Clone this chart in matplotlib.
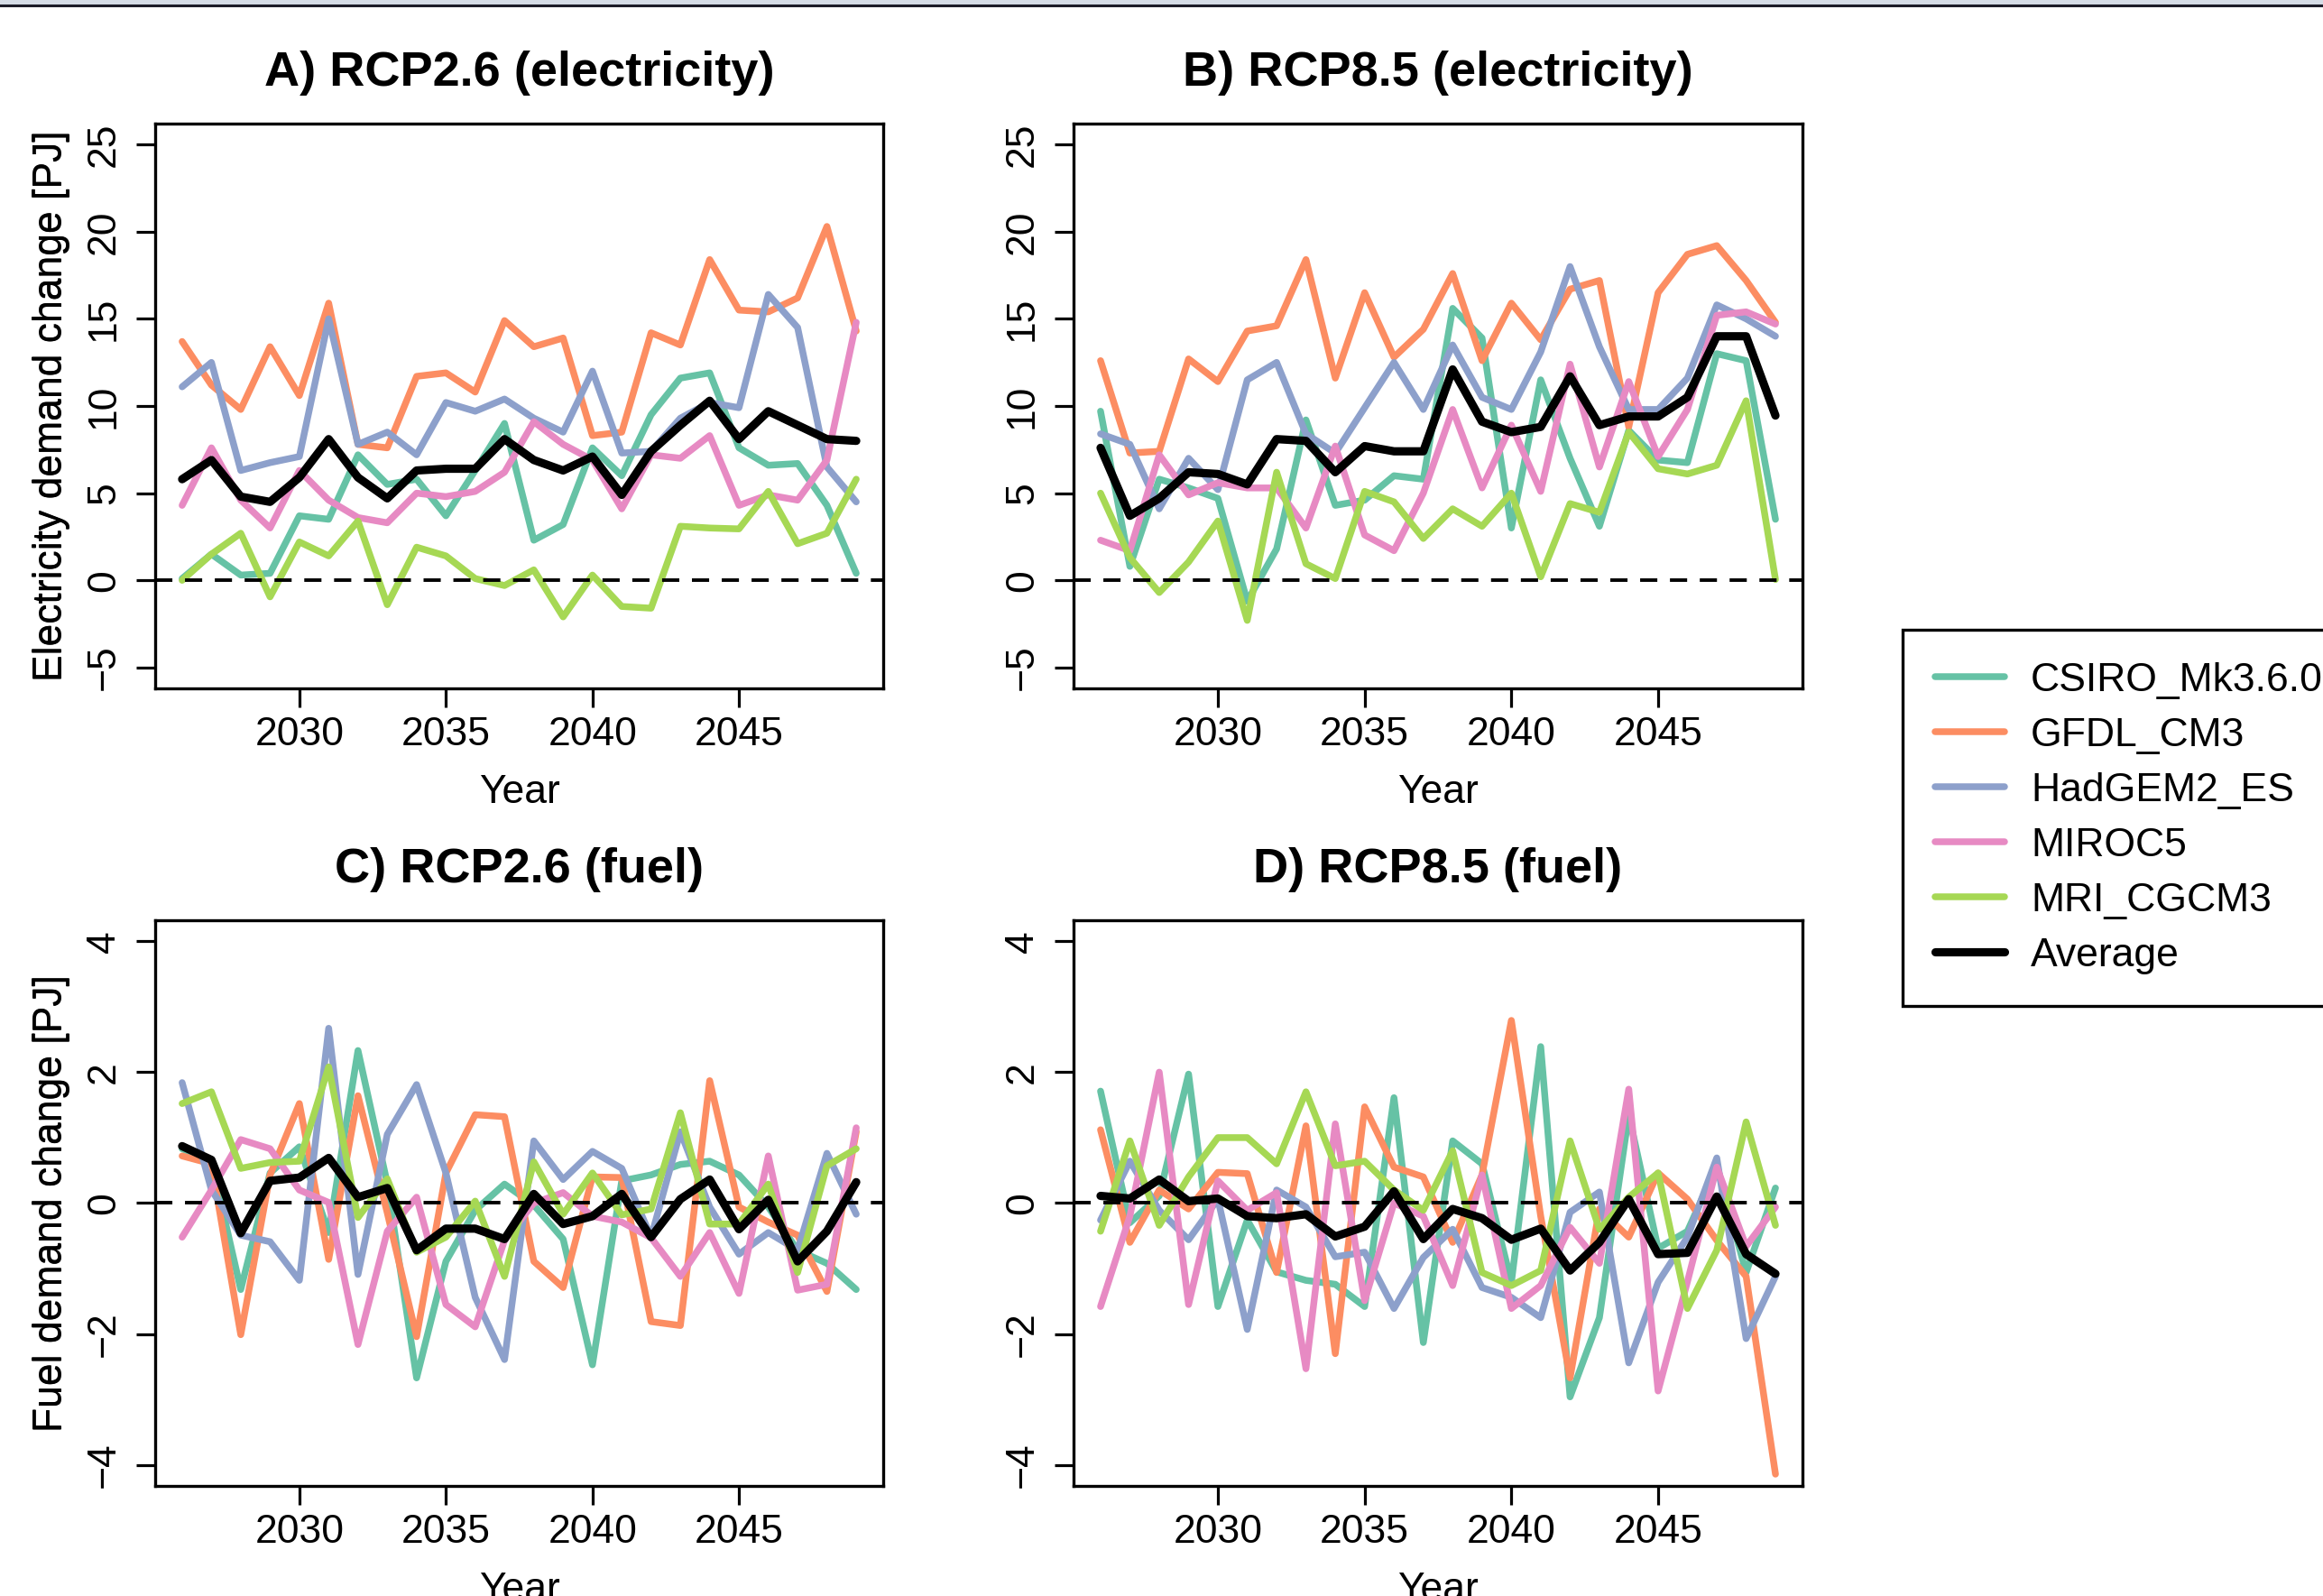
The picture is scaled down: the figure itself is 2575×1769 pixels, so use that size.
import matplotlib
matplotlib.use("Agg")
import matplotlib.pyplot as plt
from matplotlib.patches import Rectangle
from matplotlib.lines import Line2D

plt.rcParams['font.family'] = ['Liberation Sans', 'DejaVu Sans']

years = list(range(2026, 2050))
models = ["CSIRO_Mk3.6.0", "GFDL_CM3", "HadGEM2_ES", "MIROC5", "MRI_CGCM3", "Average"]
colors = ["#66C2A5", "#FC8D62", "#8DA0CB", "#E78AC3", "#A6D854", "#000000"]

# Panel A: RCP2.6 electricity
a_csiro = [0.1, 1.5, 0.3, 0.4, 3.7, 3.5, 7.2, 5.5, 5.8, 3.7, 6.3, 9.0, 2.3, 3.2, 7.6, 6.0, 9.5, 11.6, 11.9, 7.6, 6.6, 6.7, 4.3, 0.4]
a_gfdl = [13.7, 11.2, 9.8, 13.4, 10.6, 15.9, 7.8, 7.6, 11.7, 11.9, 10.8, 14.9, 13.4, 13.9, 8.3, 8.5, 14.2, 13.5, 18.4, 15.5, 15.4, 16.2, 20.3, 14.3]
a_hadgem = [11.1, 12.5, 6.3, 6.75, 7.1, 15.0, 7.8, 8.5, 7.2, 10.2, 9.7, 10.4, 9.3, 8.5, 12.0, 7.3, 7.4, 9.3, 10.2, 9.9, 16.4, 14.5, 6.5, 4.5]
a_miroc = [4.3, 7.6, 4.6, 3.0, 6.3, 4.6, 3.6, 3.3, 5.0, 4.8, 5.1, 6.2, 9.1, 7.8, 6.9, 4.1, 7.2, 7.0, 8.3, 4.3, 4.9, 4.6, 6.9, 14.8]
a_mri = [0.0, 1.5, 2.7, -0.95, 2.2, 1.4, 3.4, -1.4, 1.9, 1.4, 0.1, -0.3, 0.6, -2.1, 0.3, -1.5, -1.6, 3.1, 3.0, 2.95, 5.1, 2.1, 2.7, 5.8]
a_avg = [5.8, 6.9, 4.8, 4.5, 5.9, 8.1, 5.9, 4.7, 6.3, 6.4, 6.4, 8.1, 6.9, 6.3, 7.1, 4.9, 7.4, 8.9, 10.3, 8.1, 9.7, 8.9, 8.1, 8.0]

# Panel B: RCP8.5 electricity
b_csiro = [9.7, 0.8, 5.8, 5.3, 4.7, -1.2, 1.8, 9.2, 4.3, 4.6, 6.0, 5.8, 15.6, 13.9, 3.0, 11.5, 7.0, 3.1, 8.6, 6.9, 6.75, 13.0, 12.6, 3.5]
b_gfdl = [12.6, 7.3, 7.4, 12.7, 11.4, 14.3, 14.6, 18.4, 11.6, 16.5, 12.8, 14.4, 17.6, 12.6, 15.9, 13.8, 16.7, 17.2, 8.8, 16.5, 18.7, 19.2, 17.2, 14.8]
b_hadgem = [8.4, 7.8, 4.1, 7.0, 5.2, 11.5, 12.5, 8.4, 7.3, 9.9, 12.5, 9.8, 13.5, 10.5, 9.8, 13.1, 18.0, 13.4, 9.8, 9.8, 11.6, 15.8, 15.0, 14.0]
b_miroc = [2.3, 1.7, 7.2, 4.9, 5.6, 5.3, 5.3, 3.0, 7.7, 2.6, 1.7, 5.0, 9.8, 5.3, 8.9, 5.1, 12.4, 6.5, 11.4, 7.1, 9.8, 15.2, 15.4, 14.7]
b_mri = [5.0, 1.3, -0.7, 1.05, 3.4, -2.3, 6.2, 0.95, 0.1, 5.1, 4.5, 2.4, 4.1, 3.1, 5.0, 0.2, 4.4, 3.9, 8.5, 6.4, 6.1, 6.6, 10.3, 0.05]
b_avg = [7.6, 3.7, 4.7, 6.2, 6.1, 5.5, 8.1, 8.0, 6.2, 7.7, 7.4, 7.4, 12.1, 9.1, 8.5, 8.8, 11.7, 8.9, 9.4, 9.4, 10.5, 14.0, 14.0, 9.45]

# Panel C: RCP2.6 fuel
c_csiro = [0.83, 0.64, -1.32, 0.46, 0.86, -0.45, 2.33, 0.3, -2.67, -0.89, -0.11, 0.29, -0.03, -0.55, -2.47, 0.34, 0.43, 0.59, 0.64, 0.43, -0.06, -0.72, -0.92, -1.32]
c_gfdl = [0.72, 0.6, -2.01, 0.43, 1.52, -0.86, 1.64, -0.15, -2.04, 0.46, 1.35, 1.32, -0.89, -1.29, 0.4, 0.39, -1.81, -1.87, 1.87, -0.06, -0.29, -0.49, -1.35, 1.09]
c_hadgem = [1.84, 0.2, -0.49, -0.59, -1.18, 2.67, -1.09, 1.05, 1.81, 0.46, -1.44, -2.39, 0.95, 0.36, 0.79, 0.53, -0.52, 1.09, -0.06, -0.78, -0.45, -0.72, 0.76, -0.17]
c_miroc = [-0.52, 0.2, 0.97, 0.83, 0.2, 0.01, -2.16, -0.43, 0.09, -1.55, -1.89, -0.57, 0.0, 0.16, -0.2, -0.29, -0.53, -1.12, -0.45, -1.38, 0.72, -1.33, -1.24, 1.15]
c_mri = [1.52, 1.7, 0.53, 0.62, 0.64, 2.08, -0.22, 0.37, -0.75, -0.52, 0.03, -1.12, 0.63, -0.17, 0.46, -0.18, -0.09, 1.38, -0.32, -0.32, 0.29, -1.06, 0.57, 0.83]
c_avg = [0.87, 0.66, -0.46, 0.34, 0.39, 0.69, 0.09, 0.23, -0.72, -0.39, -0.39, -0.55, 0.14, -0.32, -0.2, 0.14, -0.52, 0.06, 0.36, -0.4, 0.05, -0.89, -0.43, 0.32]

# Panel D: RCP8.5 fuel
d_csiro = [1.71, -0.3, 0.11, 1.97, -1.58, -0.26, -1.05, -1.18, -1.24, -1.58, 1.61, -2.13, 0.95, 0.6, -1.21, 2.39, -2.96, -1.75, 1.35, -0.69, -0.43, 0.57, -1.06, 0.23]
d_gfdl = [1.12, -0.6, 0.2, -0.09, 0.47, 0.45, -1.06, 1.18, -2.3, 1.47, 0.55, 0.4, -0.6, 0.43, 2.79, -0.2, -2.67, -0.09, -0.52, 0.46, 0.06, -0.57, -1.12, -4.14]
d_hadgem = [-0.26, 0.64, -0.11, -0.56, 0.06, -1.93, 0.2, -0.06, -0.82, -0.75, -1.61, -0.83, -0.4, -1.29, -1.44, -1.75, -0.14, 0.17, -2.44, -1.21, -0.52, 0.69, -2.07, -1.12]
d_miroc = [-1.58, -0.2, 2.0, -1.55, 0.34, -0.11, 0.16, -2.53, 1.21, -1.49, 0.0, -0.2, -1.26, 0.43, -1.61, -1.26, -0.37, -0.92, 1.74, -2.87, -1.2, 0.55, -0.66, -0.06]
d_mri = [-0.43, 0.95, -0.34, 0.4, 1.0, 1.0, 0.6, 1.7, 0.57, 0.64, 0.2, -0.11, 0.8, -1.06, -1.26, -1.03, 0.95, -0.4, 0.09, 0.46, -1.61, -0.72, 1.24, -0.34]
d_avg = [0.11, 0.07, 0.36, 0.03, 0.07, -0.2, -0.23, -0.17, -0.51, -0.36, 0.18, -0.55, -0.09, -0.23, -0.56, -0.39, -1.03, -0.6, 0.06, -0.78, -0.76, 0.1, -0.78, -1.08]

titles = ["A) RCP2.6 (electricity)", "B) RCP8.5 (electricity)", "C) RCP2.6 (fuel)", "D) RCP8.5 (fuel)"]
ylabels = ["Electricity demand change [PJ]", "Electricity demand change [PJ]",
           "Fuel demand change [PJ]", "Fuel demand change [PJ]"]
xticks = [2030, 2035, 2040, 2045]
elec_yticks = [-5, 0, 5, 10, 15, 20, 25]
fuel_yticks = [-4, -2, 0, 2, 4]

panels = [
    [a_csiro, a_gfdl, a_hadgem, a_miroc, a_mri, a_avg],
    [b_csiro, b_gfdl, b_hadgem, b_miroc, b_mri, b_avg],
    [c_csiro, c_gfdl, c_hadgem, c_miroc, c_mri, c_avg],
    [d_csiro, d_gfdl, d_hadgem, d_miroc, d_mri, d_avg],
]

W, H = 2575, 1769
fig = plt.figure(figsize=(W / 100, H / 100), dpi=100)

def fx(px):
    return px / W

def fy(px):
    return 1 - px / H

boxes = [
    (172, 137, 979, 763),
    (1190, 137, 1998, 763),
    (172, 1020, 979, 1647),
    (1190, 1020, 1998, 1647),
]

FS = 32
handles = None
for i, (x0, y0, x1, y1) in enumerate(boxes):
    ax = fig.add_axes([fx(x0), fy(y1), fx(x1) - fx(x0), fy(y0) - fy(y1)])
    lines = []
    for k, vals in enumerate(panels[i]):
        lw = 6.6 if k == 5 else 5.4
        ln, = ax.plot(years, vals, color=colors[k], lw=lw,
                      solid_capstyle='round', solid_joinstyle='round', label=models[k])
        lines.append(ln)
    if handles is None:
        handles = lines
    ax.axhline(0, color='black', lw=2.8, linestyle=(0, (4.9, 3.6)),
               dash_capstyle='butt', zorder=5)
    ax.set_xlim(2025.08, 2049.92)
    if i < 2:
        ax.set_ylim(-6.2, 26.2)
        ax.set_yticks(elec_yticks)
    else:
        ax.set_ylim(-4.32, 4.32)
        ax.set_yticks(fuel_yticks)
    ax.set_xticks(xticks)
    for s in ax.spines.values():
        s.set_linewidth(2.4)
    ax.tick_params(direction='out', length=15, width=2.3, labelsize=FS)
    ax.tick_params(axis='x', pad=7)
    ax.tick_params(axis='y', pad=11, labelrotation=90)
    for lab in ax.get_yticklabels():
        lab.set_verticalalignment('center')
    hpx = y1 - y0
    wpx = x1 - x0
    ax.set_title(titles[i], fontsize=39, fontweight='bold', y=1 + 56 / hpx, pad=0, va='center')
    ax.set_xlabel("Year", fontsize=FS, va='center')
    ax.xaxis.set_label_coords(0.5, -115 / hpx)
    ax.set_ylabel(ylabels[i], fontsize=FS, va='center', ha='center')
    ax.yaxis.set_label_coords(-(x0 - 57) / wpx, 0.5)

leg = fig.legend(handles, models, loc='upper left',
                 bbox_to_anchor=(fx(2109), fy(698)), bbox_transform=fig.transFigure,
                 borderaxespad=0, frameon=True, fancybox=False, edgecolor='black',
                 framealpha=1, fontsize=FS, handlelength=1.75, handletextpad=0.65,
                 borderpad=0.8, labelspacing=0.45)
leg.get_frame().set_linewidth(2.4)

# top strip of the original screenshot
fig.add_artist(Rectangle((0, fy(5)), 1, 5 / H, transform=fig.transFigure,
                         facecolor='#d5dce6', edgecolor='none'))
fig.add_artist(Line2D([0, 1], [fy(6), fy(6)], transform=fig.transFigure,
                      color='#1c1c28', lw=2.2))

fig.savefig("out.png", dpi=100)
